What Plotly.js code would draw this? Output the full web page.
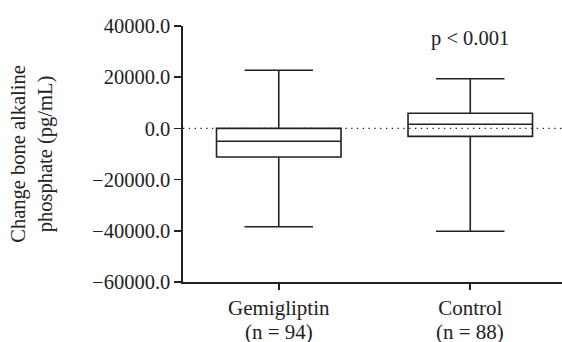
<!DOCTYPE html>
<html><head><meta charset="utf-8">
<script src="https://cdn.plot.ly/plotly-3.0.1.min.js"></script>
<style>html,body{margin:0;padding:0;background:#fff;}#chart{width:562px;height:342px;}</style>
</head><body><div id="chart"></div>
<script>
const categories = ['Gemigliptin', 'Control'];
const nLabels = ['(n = 94)', '(n = 88)'];
const lowerWhisker = [-38400, -40200];
const q1Values = [-11200, -3100];
const medianValues = [-5000, 1600];
const q3Values = [0, 5900];
const upperWhisker = [22700, 19400];
const yTickVals = [-60000, -40000, -20000, 0, 20000, 40000];
const yTickText = ['\u221260000.0', '\u221240000.0', '\u221220000.0', '0.0', '20000.0', '40000.0'];
const pText = 'p < 0.001';

const serif = 'Liberation Serif, Times New Roman, serif';
const ink = '#222';
const fs = 20.5;

const trace = {
  type: 'box',
  x: categories,
  q1: q1Values,
  median: medianValues,
  q3: q3Values,
  lowerfence: lowerWhisker,
  upperfence: upperWhisker,
  boxpoints: false,
  width: 0.65,
  whiskerwidth: 0.55,
  fillcolor: 'rgba(255,255,255,0)',
  line: {color: ink, width: 1.6},
  hoverinfo: 'skip',
  showlegend: false
};

const annotations = [{
  x: categories[1], y: 35000, xref: 'x', yref: 'y',
  text: pText, showarrow: false,
  font: {family: serif, size: fs, color: ink}
}];
categories.forEach((c, i) => {
  annotations.push({
    x: c, xref: 'x', y: -0.193, yref: 'paper', yanchor: 'middle',
    height: 21, valign: 'middle',
    text: nLabels[i], showarrow: false,
    font: {family: serif, size: 21, color: ink}
  });
});

const layout = {
  width: 562, height: 342,
  margin: {l: 183, r: 0, t: 26, b: 60},
  paper_bgcolor: '#fff', plot_bgcolor: '#fff',
  font: {family: serif, size: fs, color: ink},
  xaxis: {
    type: 'category', range: [-0.5, 1.479],
    showline: true, linecolor: ink, linewidth: 1.6,
    ticks: 'outside', ticklen: 6, tickwidth: 1.6, tickcolor: ink,
    showgrid: false, zeroline: false,
    tickfont: {family: serif, size: 21, color: ink}
  },
  yaxis: {
    range: [-60000, 40000],
    tickvals: yTickVals, ticktext: yTickText,
    showline: true, linecolor: ink, linewidth: 1.6,
    ticks: 'outside', ticklen: 7, tickwidth: 1.6, tickcolor: ink,
    showgrid: false, zeroline: false,
    tickfont: {family: serif, size: fs, color: ink},
    title: {text: 'Change bone alkaline<br>phosphate (pg/mL)', font: {family: serif, size: fs, color: ink}, standoff: 34}
  },
  shapes: [{
    type: 'line', xref: 'paper', yref: 'y', x0: 0, x1: 1, y0: 0, y1: 0,
    line: {color: ink, width: 1.3, dash: '1.3px,4.5px'}, layer: 'above'
  }],
  annotations: annotations
};

Plotly.newPlot('chart', [trace], layout, {staticPlot: true, displayModeBar: false});
</script>
</body></html>
